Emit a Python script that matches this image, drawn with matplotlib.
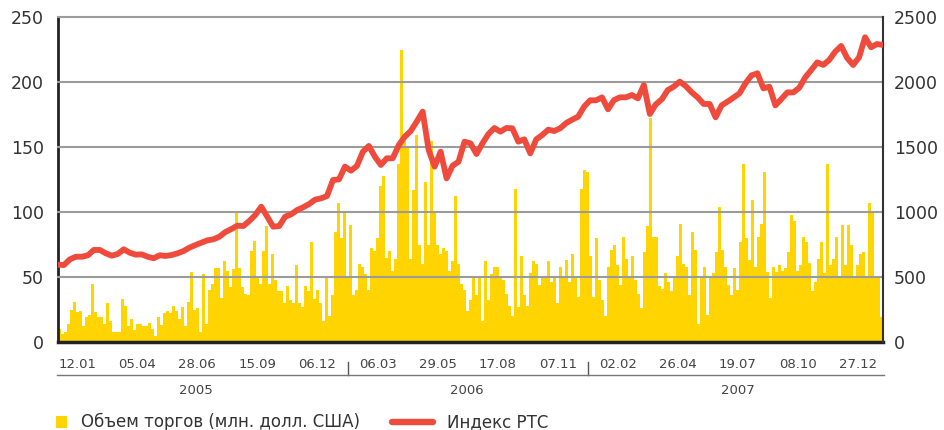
import numpy as np
import matplotlib
matplotlib.use('Agg')
import matplotlib.pyplot as plt
from matplotlib.patches import Rectangle
from matplotlib.lines import Line2D
import matplotlib.transforms as mtransforms

# Daily trading volume (mln USD), 2005-2007
volume = [
    10, 6, 8, 14, 25, 31, 23, 24, 12, 19, 21, 45, 23, 19, 19, 14, 30, 16, 8, 8,
    8, 33, 28, 12, 18, 9, 14, 14, 12, 12, 15, 10, 5, 19, 13,
    22, 24, 22, 28, 24, 18, 27, 12, 31, 54, 25, 26, 8, 52, 14, 40, 45, 57, 57,
    34, 62, 55, 42, 56, 99, 57, 42, 37, 36, 70, 78, 50, 45, 70,
    89, 45, 68, 48, 39, 39, 30, 43, 32, 30, 59, 30, 27, 43, 39, 77, 33, 40, 30,
    16, 50, 20, 36, 85, 107, 80, 100, 51, 90, 36, 40, 60, 58, 52, 40,
    72, 70, 80, 120, 128, 65, 70, 55, 64, 137, 225, 155, 150, 64, 117, 159, 75,
    60, 123, 75, 155, 100, 75, 68, 72, 70, 55, 62, 112, 60, 45, 40, 24, 32,
    49, 36, 50, 16, 62, 32, 52, 58, 58, 50, 48, 37, 28, 20, 118, 27, 66, 36, 28,
    53, 62, 60, 44, 49, 49, 62, 46, 50, 30, 58, 50, 63, 46, 68, 49,
    35, 118, 132, 131, 66, 35, 80, 48, 32, 20, 58, 71, 75, 59, 44, 81, 64, 50,
    66, 48, 37, 26, 69, 89, 172, 81, 81, 43, 41, 53, 46, 39, 50, 66, 91,
    60, 58, 36, 85, 71, 14, 50, 58, 21, 49, 53, 69, 104, 71, 58, 44, 36, 57, 40,
    77, 137, 80, 63, 109, 58, 81, 91, 131, 54, 34, 58, 54, 59, 55,
    57, 69, 98, 93, 55, 59, 81, 77, 61, 39, 46, 64, 77, 53, 137, 59, 64, 81, 50,
    90, 59, 90, 75, 50, 59, 68, 69, 50, 107, 99, 50, 50, 19,
]

# RTS index
rts = [
    595, 592, 636, 656, 656, 667, 708, 708, 682, 664, 677, 713, 687, 672, 674,
    656, 644, 667,
    662, 669, 682, 700, 726, 746, 764, 782, 790, 810, 846, 869, 895, 892, 931,
    977, 1041,
    964, 887, 892, 964, 982, 1015, 1036, 1061, 1095, 1105, 1123, 1246, 1251,
    1349, 1318, 1354, 1464,
    1508, 1426, 1362, 1413, 1413, 1515, 1579, 1623, 1695, 1772, 1477, 1349,
    1464, 1259, 1356, 1387, 1541, 1528,
    1446, 1528, 1600, 1646, 1618, 1646, 1644, 1541, 1559, 1451, 1559, 1592,
    1633, 1623, 1644, 1684, 1710,
    1733, 1810, 1859, 1859, 1882, 1790, 1861, 1882, 1882, 1900, 1874, 1977,
    1754, 1828, 1867, 1938, 1964, 2003,
    1969, 1920, 1882, 1831, 1831, 1728, 1820, 1849, 1880, 1913, 1990, 2051,
    2067, 1951, 1964, 1820, 1869,
    1920, 1920, 1956, 2036, 2092, 2151, 2131, 2169, 2233, 2277, 2185, 2131,
    2190, 2344, 2267, 2292, 2285,
]

date_labels = ['12.01', '05.04', '28.06', '15.09', '06.12', '06.03', '29.05',
               '17.08', '07.11', '02.02', '26.04', '19.07', '08.10', '27.12']
years = ['2005', '2006', '2007']
left_ticks = [0, 50, 100, 150, 200, 250]
right_ticks = [0, 500, 1000, 1500, 2000, 2500]
legend_labels = ['Объем торгов (млн. долл. США)', 'Индекс РТС']

BAR_C = '#FFD400'
LINE_C = '#EE4B3D'
TXT = '#333333'

plt.rcParams['font.family'] = ['DejaVu Sans']

W, H = 944, 430
fig = plt.figure(figsize=(W / 100, H / 100), dpi=100)
ax = fig.add_axes([58 / W, 1 - 342 / H, 825 / W, 325 / H])

n = len(volume)
idx = np.arange(n)
ax.bar(idx, volume, width=1.0, color=BAR_C, linewidth=0, zorder=2)
ax.set_xlim(-0.5, n - 0.5)
ax.set_ylim(0, 250)
ax.set_yticks(left_ticks)
ax.set_yticklabels([str(v) for v in left_ticks])
for v in left_ticks[1:]:
    ax.axhline(v, color='#9b9b9b', lw=1.5, zorder=3, clip_on=False)
ax.set_xticks([])
ax.tick_params(axis='y', length=0, pad=10, labelsize=12.5, labelcolor=TXT)
ax.spines['top'].set_visible(False)
ax.spines['right'].set_visible(False)
ax.spines['left'].set_color('#222222')
ax.spines['left'].set_linewidth(2)
ax.spines['bottom'].set_color('#222222')
ax.spines['bottom'].set_linewidth(2.5)
ax.spines['bottom'].set_zorder(5)

ax2 = ax.twinx()
x_line = np.linspace(-0.5, n - 0.5, len(rts))
ax2.plot(x_line, rts, color=LINE_C, lw=4.2, solid_capstyle='round',
         solid_joinstyle='round', zorder=4)
ax2.set_ylim(0, 2500)
ax2.set_yticks(right_ticks)
ax2.set_yticklabels([str(v) for v in right_ticks])
ax2.tick_params(axis='y', length=0, pad=8, labelsize=12.5, labelcolor=TXT)
for s in ['top', 'left', 'bottom']:
    ax2.spines[s].set_visible(False)
ax2.spines['right'].set_color('#333333')
ax2.spines['right'].set_linewidth(1.5)

# date axis below
trans = mtransforms.blended_transform_factory(ax.transData, ax.transAxes)
pos = np.linspace(5.9, 266.2, len(date_labels))
for p, lab in zip(pos, date_labels):
    ax.text(p, (342 - 364) / 325, lab, transform=trans, ha='center',
            va='center', fontsize=9.5, color='#444444')
for sep in [96.2, 176.2]:
    ax.plot([sep, sep], [(342 - 362) / 325, (342 - 375) / 325], transform=trans,
            color='#555555', lw=1, clip_on=False)
ax.plot([-1.0, n - 0.2], [(342 - 375) / 325] * 2, transform=trans,
        color='#777777', lw=1, clip_on=False)
for p, y in zip([45.5, 135.8, 226.0], years):
    ax.text(p, (342 - 390) / 325, y, transform=trans, ha='center', va='center',
            fontsize=9.5, color='#444444')

# legend
fig.add_artist(Rectangle((56 / W, 1 - 428 / H), 11 / W, 12 / H,
                         transform=fig.transFigure, color=BAR_C, lw=0))
fig.text(81 / W, 1 - 422 / H, legend_labels[0], ha='left', va='center',
         fontsize=12, color=TXT)
fig.add_artist(Line2D([392 / W, 433 / W], [1 - 422 / H] * 2,
                      transform=fig.transFigure, color=LINE_C, lw=4.6,
                      solid_capstyle='round'))
fig.text(447 / W, 1 - 422 / H, legend_labels[1], ha='left', va='center',
         fontsize=12, color=TXT)

fig.savefig('out.png', dpi=100)
